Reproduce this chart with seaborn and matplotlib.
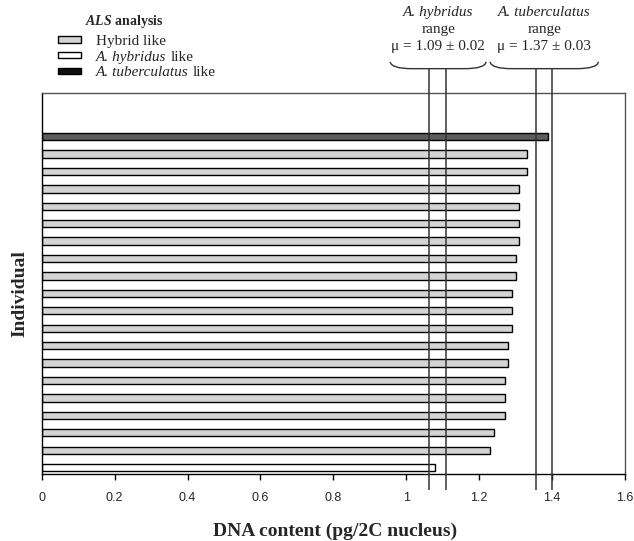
import numpy as np
import pandas as pd
import matplotlib
matplotlib.use("Agg")
import matplotlib.pyplot as plt
from matplotlib.path import Path
from matplotlib.patches import PathPatch
import seaborn as sns

# DNA content per individual, top to bottom
dna_content = [1.39, 1.33, 1.33, 1.31, 1.31, 1.31, 1.31, 1.30, 1.30, 1.29,
               1.29, 1.29, 1.28, 1.28, 1.27, 1.27, 1.27, 1.24, 1.23, 1.08]
als_group = (["A. tuberculatus like"] + ["Hybrid like"] * 18 + ["A. hybridus like"])
individuals = [str(i + 1) for i in range(len(dna_content))]

group_order = ["Hybrid like", "A. hybridus like", "A. tuberculatus like"]
group_colors = {"Hybrid like": "#d4d4d4", "A. hybridus like": "#ffffff",
                "A. tuberculatus like": "#5c5c5c"}
# legend text: (italic part, plain part)
legend_parts = [("", "Hybrid like"), ("A. hybridus", "like"), ("A. tuberculatus", "like")]

# reference lines: hybridus range and tuberculatus range
range_lines = [1.063, 1.109, 1.356, 1.401]
range_titles = ["A. hybridus", "A. tuberculatus"]
range_stats = ["μ = 1.09 ± 0.02", "μ = 1.37 ± 0.03"]
brace_spans = [(0.956, 1.219), (1.230, 1.527)]

df = pd.DataFrame({"individual": individuals, "dna": dna_content, "group": als_group})

sns.set_style("white")
plt.rcParams["font.family"] = ["Liberation Serif", "DejaVu Serif"]
plt.rcParams["mathtext.fontset"] = "custom"
plt.rcParams["mathtext.rm"] = "Liberation Serif"
plt.rcParams["mathtext.it"] = "Liberation Serif:italic"
plt.rcParams["mathtext.bf"] = "Liberation Serif:bold:italic"

fig = plt.figure(figsize=(6.34, 5.41), dpi=100)
ax = fig.add_axes([0.0658, 0.1238, 0.92, 0.7042])

sns.barplot(data=df, x="dna", y="individual", hue="group", hue_order=group_order,
            palette=group_colors, dodge=False, width=0.42, edgecolor="black",
            linewidth=1, orient="h", ax=ax)

handles, _ = ax.get_legend_handles_labels()
if ax.legend_ is not None:
    ax.legend_.remove()

ax.set_xlim(0, 1.6)
ax.set_ylim(len(dna_content) - 1 + 0.37, -2.5)
ax.set_xticks([0, 0.2, 0.4, 0.6, 0.8, 1.0, 1.2, 1.4, 1.6])
ax.set_xticklabels(["0", "0.2", "0.4", "0.6", "0.8", "1", "1.2", "1.4", "1.6"],
                   family="Liberation Sans", fontsize=9)
ax.set_yticks([])
ax.set_xlabel("")
ax.set_ylabel("")
ax.tick_params(axis="x", direction="out", length=4, width=1, color="black", pad=9, bottom=True)

for side in ["left", "bottom"]:
    ax.spines[side].set_color("black")
    ax.spines[side].set_linewidth(1)
for side in ["top", "right"]:
    ax.spines[side].set_color("#555555")
    ax.spines[side].set_linewidth(1)

# range lines reaching above and below the plot frame
ax.vlines(range_lines, -0.042, 1.066, transform=ax.get_xaxis_transform(),
          colors="#333333", linewidth=1.1, clip_on=False, zorder=5)

trans = ax.get_xaxis_transform()
for (x0, x1), title, stat in zip(brace_spans, range_titles, range_stats):
    xc = (x0 + x1) / 2
    ax.text(xc, 1.212, title, transform=trans, ha="center", va="center",
            fontsize=11, style="italic")
    ax.text(xc, 1.167, "range", transform=trans, ha="center", va="center", fontsize=11)
    ax.text(xc, 1.123, stat, transform=trans, ha="center", va="center", fontsize=11)
    # brace under the labels
    w = 0.03
    y_top, y_bot = 1.082, 1.064
    verts = [(x0, y_top), (x0 + 0.002, y_bot), (x0 + 2 * w, y_bot), (x1 - 2 * w, y_bot),
             (x1 - 0.002, y_bot), (x1, y_top)]
    codes = [Path.MOVETO, Path.CURVE3, Path.CURVE3, Path.LINETO, Path.CURVE3, Path.CURVE3]
    ax.add_patch(PathPatch(Path(verts, codes), transform=trans, fill=False,
                           edgecolor="#333333", linewidth=1, clip_on=False))

# legend
handles[2].set_facecolor("#111111")
fig.text(85 / 634, 1 - 22 / 541, r"$\mathbf{ALS}$ analysis", fontsize=10,
         fontweight="bold", ha="left", va="center")
first_parts = [it if it else plain for it, plain in legend_parts]
leg = fig.legend(handles, first_parts, loc="upper left",
                 bbox_to_anchor=(58 / 634, 1 - 35 / 541),
                 frameon=False, fontsize=11, handlelength=1.5, handleheight=0.25,
                 handletextpad=1.0, labelspacing=0.18, borderpad=0, borderaxespad=0)
for txt, (it, plain) in zip(leg.get_texts(), legend_parts):
    if it:
        txt.set_style("italic")
fig.canvas.draw()
renderer = fig.canvas.get_renderer()
inv = fig.transFigure.inverted()
for txt, (it, plain) in zip(leg.get_texts(), legend_parts):
    if not it:
        continue
    bb = txt.get_window_extent(renderer)
    x_end, y_base = inv.transform((bb.x1 + 4, bb.y0))
    fig.text(x_end, y_base, plain, fontsize=11, ha="left", va="bottom")

fig.text(20 / 634, 1 - 294 / 541, "Individual", rotation=90, fontsize=14,
         fontweight="bold", ha="center", va="center")
fig.text(335 / 634, 1 - 531 / 541, "DNA content (pg/2C nucleus)", fontsize=14,
         fontweight="bold", ha="center", va="center")

fig.savefig("out.png", dpi=100)
